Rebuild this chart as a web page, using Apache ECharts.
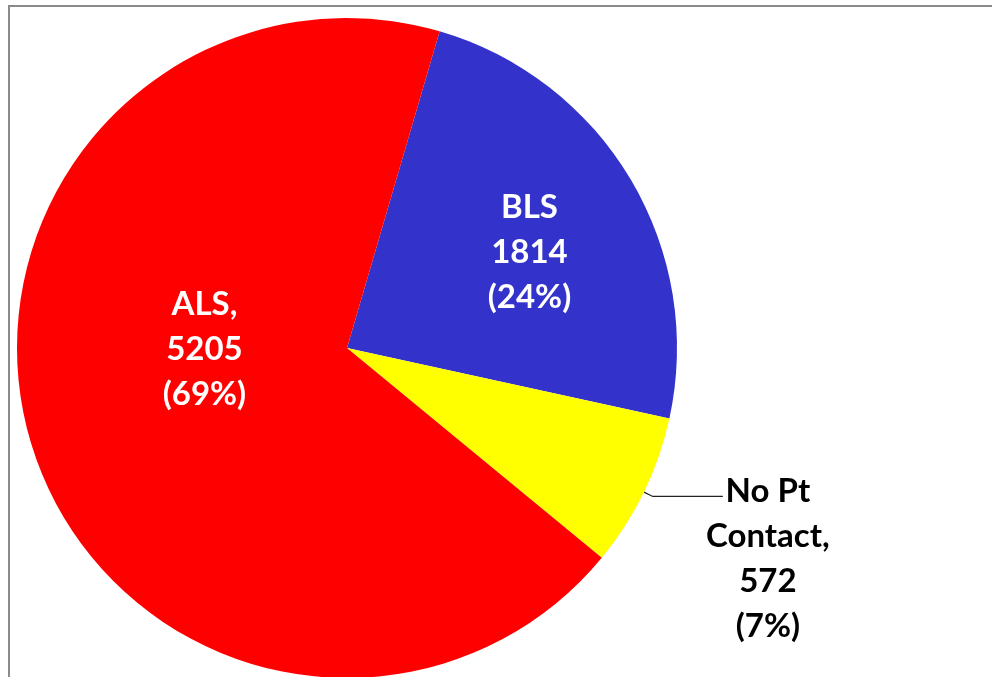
<!DOCTYPE html>
<html>
<head>
<meta charset="utf-8">
<script src="https://cdn.jsdelivr.net/npm/echarts@6/dist/echarts.min.js"></script>
<style>
  html, body { margin: 0; padding: 0; background: #fff; }
  #wrap { position: relative; width: 992px; height: 677px; overflow: hidden; }
  #frame { position: absolute; left: 8px; top: 5px; width: 1100px; height: 800px; border: 2px solid #8a8a8a; box-sizing: border-box; }
  #main { position: absolute; left: 0; top: 0; width: 992px; height: 677px; }
</style>
</head>
<body>
<div id="wrap">
  <div id="frame"></div>
  <div id="main"></div>
</div>
<script>
// slice order runs clockwise from the BLS edge near the top
const categories = ["BLS", "No Pt Contact", "ALS"];
const labelNames = ["BLS", "No Pt\nContact,", "ALS,"];
const values = [1814, 572, 5205];
const colors = ["#3333cc", "#ffff00", "#ff0000"];

const chart = echarts.init(document.getElementById("main"));

const seriesData = categories.map((name, i) => {
  const outside = i === 1;
  return {
    name: name,
    value: values[i],
    itemStyle: { color: colors[i] },
    label: {
      position: outside ? "outside" : "inside",
      color: outside ? "#000" : "#fff"
    },
    labelLine: { show: outside }
  };
});

// nudges to match where the original chart put its labels
const labelShift = [
  { dx: 38, dy: -10 },
  { dx: 40, dy: 62 },
  { dx: 18, dy: -48 }
];

const option = {
  animation: false,
  series: [
    {
      type: "pie",
      center: [347, 348],
      radius: 330,
      startAngle: 73.7,
      clockwise: true,
      percentPrecision: 0,
      avoidLabelOverlap: false,
      itemStyle: { borderWidth: 0 },
      label: {
        show: true,
        fontFamily: "Lato",
        fontWeight: "bold",
        fontSize: 33,
        lineHeight: 45,
        align: "center",
        // percent is rounded by echarts so the three parts add up to 100
        formatter: (p) => `${labelNames[p.dataIndex]}\n${p.value}\n(${p.percent}%)`
      },
      labelLine: {
        length: 10,
        length2: 70,
        lineStyle: { color: "#222", width: 1.2 }
      },
      labelLayout: (params) => {
        const s = labelShift[params.dataIndex];
        const out = { dx: s.dx, dy: s.dy, align: "center" };
        if (params.labelLinePoints) out.labelLinePoints = params.labelLinePoints;
        return out;
      },
      data: seriesData
    }
  ]
};

chart.setOption(option);
</script>
</body>
</html>
